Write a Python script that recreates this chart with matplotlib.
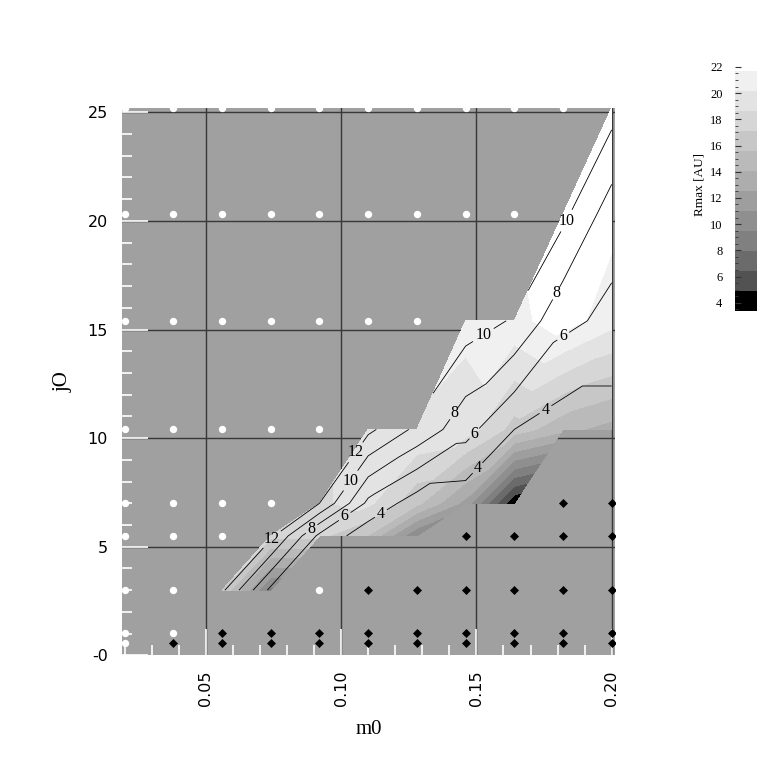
import numpy as np
import matplotlib.pyplot as plt
import matplotlib.tri as mtri
from matplotlib.colors import ListedColormap

nan = np.nan

# grid of runs
m0 = [0.020, 0.038, 0.056, 0.074, 0.092, 0.110, 0.128, 0.146, 0.164, 0.182, 0.200]
j0 = [0.55, 1.04, 3.0, 5.5, 7.0, 10.4, 15.4, 20.3, 25.2]

# o = white dot, D = black diamond, . = run with a result
status = [
    "oDDDDDDDDDD",
    "ooDDDDDDDDD",
    "oo..oDDDDDD",
    "ooo....DDDD",
    "oooo.....DD",
    "ooooo......",
    "ooooooo....",
    "ooooooooo..",
    "oooooooooo.",
]

# Rmax [AU] (filled field)
rmax = [
    [nan] * 11,
    [nan] * 11,
    [nan, nan, 17.0, 9.0] + [nan] * 7,
    [nan] * 3 + [17.5, 17.5, 15.5, 9.5] + [nan] * 4,
    [nan] * 4 + [18.5, 19.0, 16.0, 12.0, 3.4] + [nan] * 2,
    [nan] * 5 + [19.0, 20.0, 19.5, 16.5, 14.5, 13.5],
    [nan] * 7 + [20.5, 21.2, 22.5, 20.8],
    [nan] * 9 + [23.0, 22.2],
    [nan] * 10 + [23.0],
]

# second quantity drawn as labelled contour lines
nfield = [
    [nan] * 11,
    [nan] * 11,
    [nan, nan, 12.4, 5.5] + [nan] * 7,
    [nan] * 3 + [12.5, 5.5, 2.8, 2.3] + [nan] * 4,
    [nan] * 4 + [12.0, 5.5, 3.0, 2.8, 2.0] + [nan] * 2,
    [nan] * 5 + [12.5, 9.5, 6.7, 4.0, 3.0, 3.0],
    [nan] * 7 + [11.0, 9.8, 6.5, 5.5],
    [nan] * 9 + [10.5, 6.9],
    [nan] * 10 + [10.8],
]

line_levels = [4, 6, 8, 10, 12]
fill_levels = np.linspace(3.37, 21.7, 13)
grays = [0.0, 0.32, 0.42, 0.50, 0.56, 0.62, 0.68, 0.73, 0.78, 0.84, 0.89, 0.94]

X, Y = np.meshgrid(m0, j0)
R = np.array(rmax, float)
N = np.array(nfield, float)
S = np.array([list(r) for r in status])

# regular grid split into triangles, masked where a corner has no result
ny, nx = X.shape
idx = np.arange(nx * ny).reshape(ny, nx)
a = idx[:-1, :-1].ravel()
b = idx[:-1, 1:].ravel()
c = idx[1:, 1:].ravel()
d = idx[1:, :-1].ravel()
tris = np.concatenate([np.column_stack([a, b, c]), np.column_stack([a, c, d])])
tri = mtri.Triangulation(X.ravel(), Y.ravel(), tris)
bad = np.isnan(R.ravel())
tri.set_mask(bad[tris].any(axis=1))

cmap = ListedColormap([(g, g, g) for g in grays])
cmap.set_over('white')

plt.rcParams['font.family'] = 'DejaVu Sans'
serif = 'Liberation Serif'

fig = plt.figure(figsize=(7.71, 7.71), dpi=100)
ax = fig.add_axes([0.1582, 0.150, 0.6394, 0.710])
ax.set_facecolor('#a0a0a0')

ax.tricontourf(tri, np.nan_to_num(R.ravel()), levels=fill_levels, cmap=cmap,
               extend='max', zorder=1)
cs = ax.tricontour(tri, np.nan_to_num(N.ravel()), levels=line_levels,
                   colors='black', linewidths=0.6, zorder=3)

ax.plot(X[S == 'o'], Y[S == 'o'], 'o', color='white', ms=5.3, mec='none', zorder=4)
ax.plot(X[S == 'D'], Y[S == 'D'], 'D', color='black', ms=4.2, mec='black',
        mew=0.5, zorder=4)

ax.set_xlim(0.019, 0.2012)
ax.set_ylim(0, 25.2)

ax.set_xticks([0.05, 0.10, 0.15, 0.20])
ax.set_xticklabels(['0.05', '0.10', '0.15', '0.20'], rotation=90)
ax.set_xticks(np.arange(0.02, 0.2, 0.01), minor=True)
ax.set_yticks([0, 5, 10, 15, 20, 25])
ax.set_yticklabels(['-0', '5', '10', '15', '20', '25'])
ax.set_yticks(np.arange(1, 25, 1), minor=True)
ax.tick_params(which='major', direction='in', length=19, width=1.2,
               color='white', labelsize=11.5, pad=11)
ax.tick_params(which='minor', direction='in', length=7, width=1.2, color='white')
ax.tick_params(axis='y', pad=10)

ax.set_axisbelow(True)
ax.grid(True, which='major', color='#383838', lw=1.0)
ax.get_ygridlines()[0].set_visible(False)
for sp in ax.spines.values():
    sp.set_visible(False)

ax.set_xlabel('m0', fontsize=15, family=serif)
ax.xaxis.set_label_coords(0.5, -0.118)
ax.set_ylabel('jO', fontsize=15, family=serif)
ax.yaxis.set_label_coords(-0.10, 0.5)

label_pos = [(0.0718, 5.64), (0.1050, 9.38), (0.1030, 8.09), (0.1513, 15.0),
             (0.1838, 19.98), (0.0885, 5.92), (0.1391, 11.36), (0.1782, 16.76),
             (0.1014, 6.38), (0.1461, 10.58), (0.1819, 14.73), (0.1143, 6.61),
             (0.1476, 8.96), (0.1753, 11.36)]
labels = ax.clabel(cs, manual=label_pos, inline=True, inline_spacing=2,
                   fontsize=11.5, fmt='%d')
for t in labels:
    t.set_family(serif)
    t.set_rotation(0)

# colour bar
cax = fig.add_axes([0.9533, 0.5966, 0.0285, 0.3234])
cax.bar(0.5, np.diff(fill_levels), bottom=fill_levels[:-1], width=1,
        color=[(g, g, g) for g in grays], linewidth=0)
cax.set_xlim(0, 1)
cax.set_ylim(3.37, 22.4)
cax.set_xticks([])
cax.set_yticks(np.arange(4, 23, 2))
cax.set_yticks(np.arange(3.5, 22.5, 0.5), minor=True)
cax.tick_params(which='major', direction='in', length=4, width=0.8,
                color='#333333', labelsize=9, pad=9)
cax.tick_params(which='minor', direction='in', length=2, width=0.6, color='#333333')
for t in cax.get_yticklabels():
    t.set_family(serif)
for sp in cax.spines.values():
    sp.set_visible(False)
fig.text(700 / 771, 1 - 185 / 771, 'Rmax [AU]', rotation=90, ha='center',
         va='center', fontsize=9.5, family=serif)

fig.savefig('out.png', dpi=100)
